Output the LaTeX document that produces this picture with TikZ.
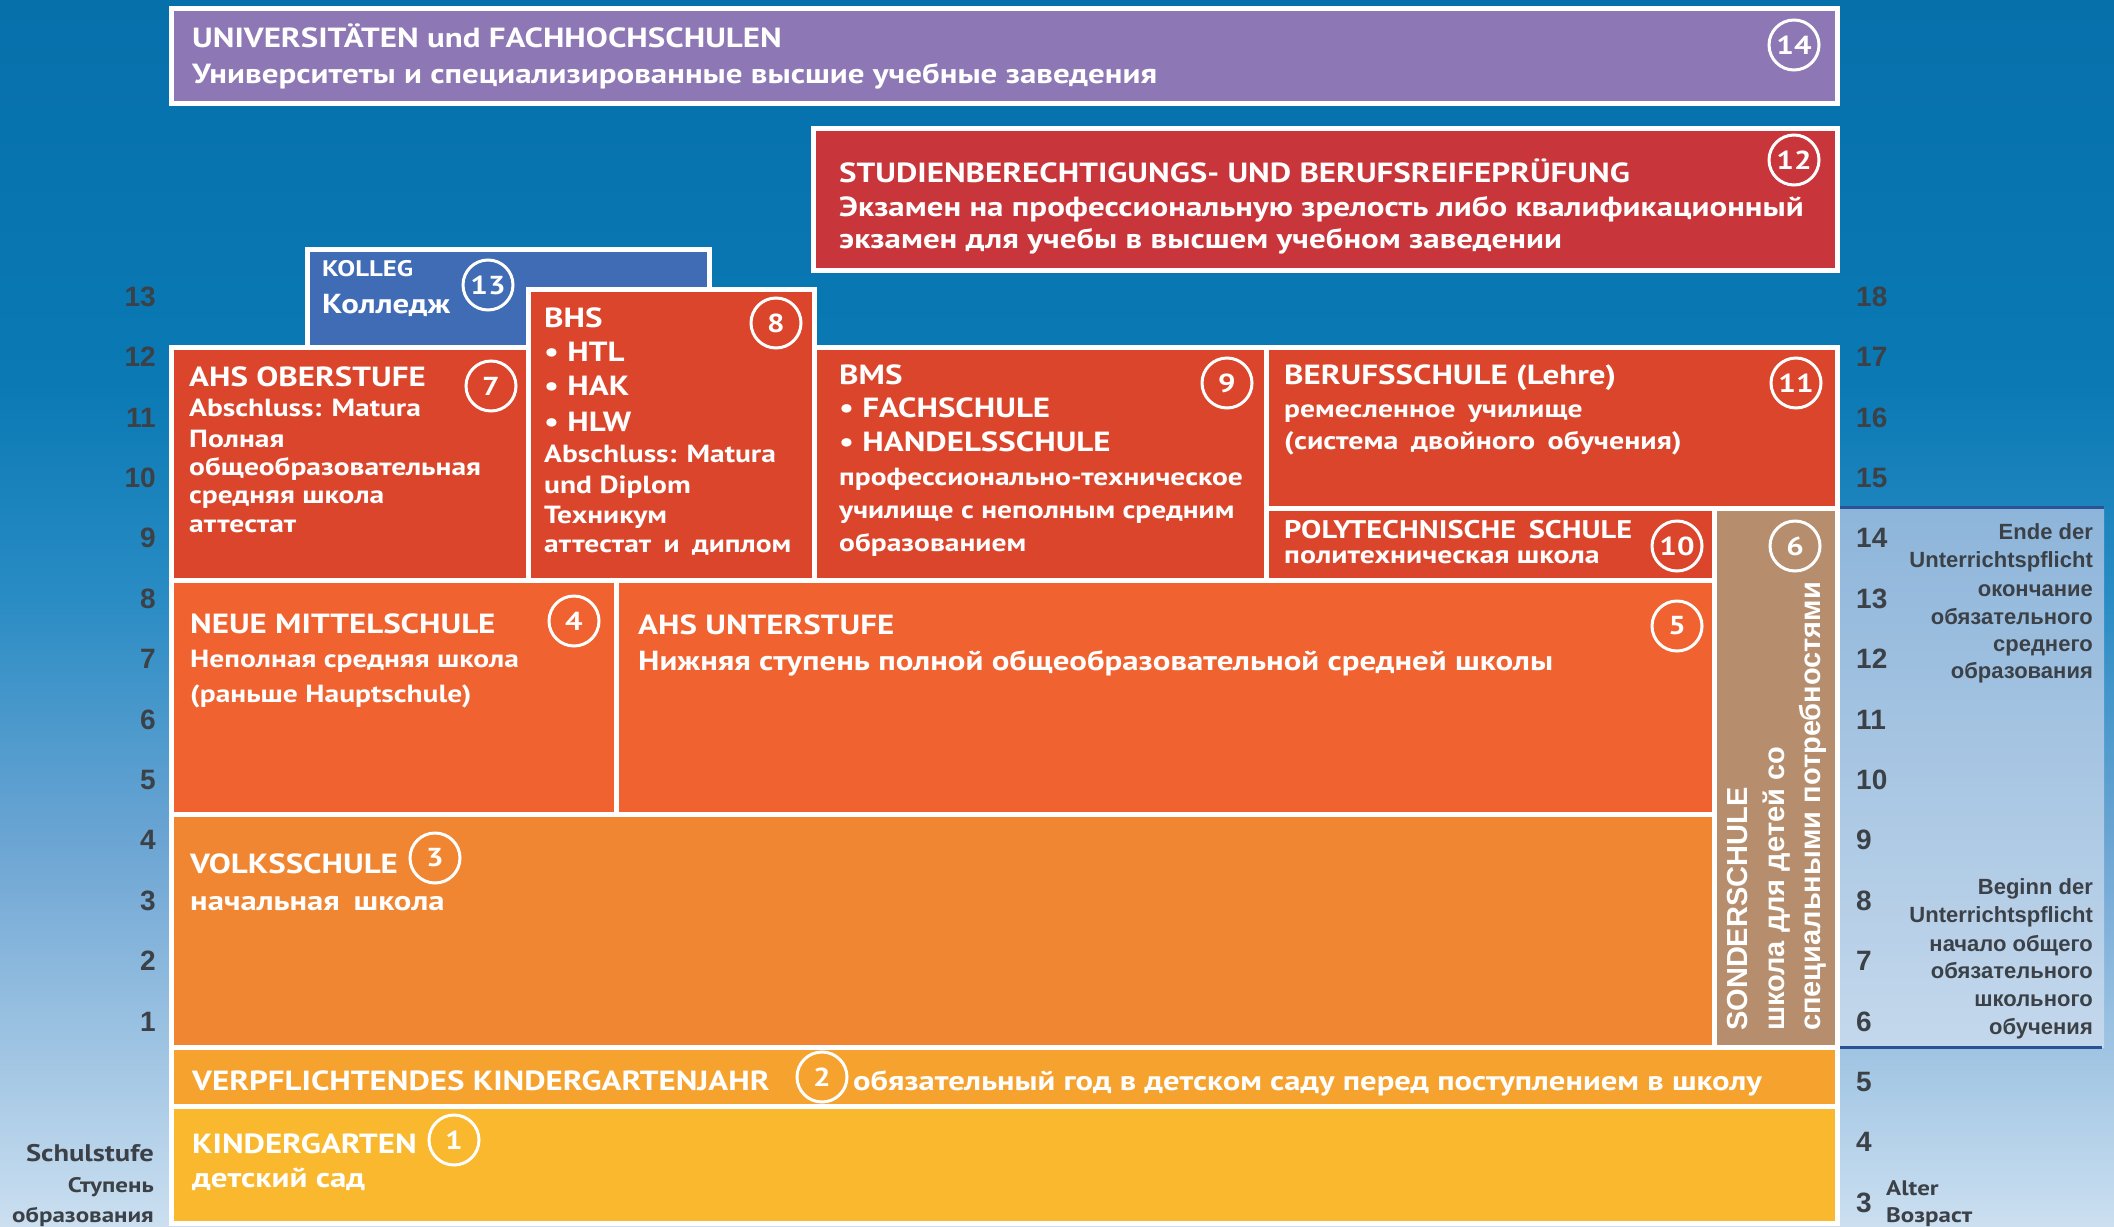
\documentclass[tikz,border=0pt]{standalone}
\usepackage{fontspec}
\setmainfont{PT Sans}[FakeStretch=1.19]
\newfontfamily\helv{Liberation Sans}
\newcommand\fsz[1]{\fontsize{#1}{#1}\selectfont}
\newcommand\wsp{\hspace{0.5em}}
\definecolor{bgA}{HTML}{0670AB}
\definecolor{bgB}{HTML}{0A79B4}
\definecolor{bgC}{HTML}{2A8CC4}
\definecolor{bgD}{HTML}{6EA6D4}
\definecolor{bgE}{HTML}{CBDFF0}
\definecolor{pnlTop}{HTML}{8DB5DA}
\definecolor{pnlBot}{HTML}{C4D8EC}
\definecolor{pnlLine}{HTML}{2A5294}
\definecolor{cPurple}{HTML}{8D77B4}
\definecolor{cDarkRed}{HTML}{C8353A}
\definecolor{cBlue}{HTML}{3F6CB5}
\definecolor{cRed}{HTML}{DB452B}
\definecolor{cOrRed}{HTML}{F0622F}
\definecolor{cOrange}{HTML}{F18632}
\definecolor{cLtOr}{HTML}{F6A22F}
\definecolor{cYellow}{HTML}{F9B82D}
\definecolor{cBrown}{HTML}{B68E6D}
\definecolor{cGrey}{HTML}{3B4147}
\tikzset{
  boxe/.style={draw=white, line width=5pt},
  circ/.style={circle, draw=white, line width=3pt, minimum size=50pt, inner sep=0pt, text=white, font=\bfseries\fsz{26}},
  lbl/.style={anchor=base west, text=white, inner sep=0pt, font=\bfseries\fsz{27.7}},
  sub/.style={lbl, font=\bfseries\fsz{24.8}},
  numL/.style={anchor=base east, inner sep=0pt, text=cGrey, font=\helv\bfseries\fsz{28}},
  numR/.style={anchor=base west, inner sep=0pt, text=cGrey, font=\helv\bfseries\fsz{28}},
  note/.style={anchor=base east, inner sep=0pt, text=cGrey, font=\helv\bfseries\fsz{22}},
  side/.style={inner sep=0pt, text=cGrey, font=\bfseries\fsz{24}},
  sond/.style={rotate=90, anchor=base west, inner sep=0pt, text=white, font=\helv\bfseries\fsz{29}}
}
\begin{document}
\begin{tikzpicture}[x=1pt,y=-1pt]
\useasboundingbox (0,0) rectangle (2114,1226);
% background
\fill[top color=bgA,bottom color=bgB] (0,0) rectangle (2114,381);
\fill[top color=bgB,bottom color=bgC] (0,380) rectangle (2114,601);
\fill[top color=bgC,bottom color=bgD] (0,600) rectangle (2114,851);
\fill[top color=bgD,bottom color=bgE] (0,850) rectangle (2114,1226);
% right panel
\fill[top color=pnlTop,bottom color=pnlBot] (1840,507) rectangle (2104,1047);
\draw[pnlLine, line width=3pt] (1840,507) -- (2104,507);
\draw[pnlLine, line width=3pt] (1840,1047) -- (2102,1047);
% boxes
\path[boxe, fill=cPurple] (171,8.5) rectangle (1837,103);
\path[boxe, fill=cDarkRed] (813,128.5) rectangle (1837,270.5);
\path[boxe, fill=cBlue] (307,249) rectangle (709,347);
\path[boxe, fill=cRed] (171,347) rectangle (528,580);
\path[boxe, fill=cRed] (528,289) rectangle (814,580);
\path[boxe, fill=cRed] (814,347) rectangle (1266,580);
\path[boxe, fill=cRed] (1266,347) rectangle (1837,508);
\path[boxe, fill=cRed] (1266,508) rectangle (1714,580);
\path[boxe, fill=cBrown] (1714,508) rectangle (1837,1047);
\path[boxe, fill=cOrRed] (171,580) rectangle (616,814);
\path[boxe, fill=cOrRed] (616,580) rectangle (1714,814);
\path[boxe, fill=cOrange] (171,814) rectangle (1714,1047);
\path[boxe, fill=cLtOr] (171,1047) rectangle (1837,1106);
\path[boxe, fill=cYellow] (171,1106) rectangle (1837,1223);
% texts
\node[lbl] (t14a) at (192,47) {UNIVERSITÄTEN und FACHHOCHSCHULEN};
\node[lbl] (t14b) at (192,83) {Университеты и специализированные высшие учебные заведения};
\node[lbl] (t12a) at (839,182) {STUDIENBERECHTIGUNGS- UND BERUFSREIFEPRÜFUNG};
\node[lbl] (t12b) at (839,216) {Экзамен на профессиональную зрелость либо квалификационный};
\node[lbl] (t12c) at (839,248) {экзамен для учебы в высшем учебном заведении};
\node[lbl, font=\bfseries\fsz{22.5}] (t13a) at (322,276) {KOLLEG};
\node[lbl, font=\bfseries\fsz{27.5}] (t13b) at (322,313) {Колледж};
\node[lbl] (t8a) at (544,327) {BHS};
\node[lbl] (t8b) at (544,361) {• HTL};
\node[lbl] (t8c) at (544,395) {• HAK};
\node[lbl] (t8d) at (544,431) {• HLW};
\node[sub] (t8e) at (544,462) {Abschluss: Matura};
\node[sub] (t8f) at (544,493) {und Diplom};
\node[sub] (t8g) at (544,523) {Техникум};
\node[sub] (t8h) at (544,552) {аттестат\wsp и\wsp диплом};
\node[lbl] (t7a) at (189,386) {AHS OBERSTUFE};
\node[sub] (t7b) at (189,416) {Abschluss: Matura};
\node[sub] (t7c) at (189,447) {Полная};
\node[sub] (t7d) at (189,475) {общеобразовательная};
\node[sub] (t7e) at (189,503) {средняя школа};
\node[sub] (t7f) at (189,532) {аттестат};
\node[lbl] (t9a) at (839,384) {BMS};
\node[lbl] (t9b) at (839,417) {• FACHSCHULE};
\node[lbl] (t9c) at (839,451) {• HANDELSSCHULE};
\node[sub] (t9d) at (839,485) {профессионально-техническое};
\node[sub] (t9e) at (839,518) {училище с неполным средним};
\node[sub] (t9f) at (839,551) {образованием};
\node[lbl] (t11a) at (1284,384) {BERUFSSCHULE (Lehre)};
\node[sub] (t11b) at (1284,417) {ремесленное\wsp училище};
\node[sub, font=\bfseries\fsz{25.2}] (t11c) at (1284,449) {(система\wsp двойного\wsp обучения)};
\node[sub, font=\bfseries\fsz{25.5}] (t10a) at (1284,538) {POLYTECHNISCHE\wsp SCHULE};
\node[sub, font=\bfseries\fsz{25}] (t10b) at (1284,563) {политехническая школа};
\node[lbl] (t4a) at (190,633) {NEUE MITTELSCHULE};
\node[sub] (t4b) at (190,667) {Неполная средняя школа};
\node[sub] (t4c) at (190,702) {(раньше Hauptschule)};
\node[lbl] (t5a) at (638,634) {AHS UNTERSTUFE};
\node[lbl, font=\bfseries\fsz{27.6}] (t5b) at (638,670) {Нижняя ступень полной общеобразовательной средней школы};
\node[lbl] (t3a) at (190,873) {VOLKSSCHULE};
\node[lbl, font=\bfseries\fsz{27.5}] (t3b) at (190,910) {начальная\wsp школа};
\node[lbl] (t2a) at (192,1090) {VERPFLICHTENDES KINDERGARTENJAHR};
\node[lbl, font=\bfseries\fsz{27.4}] (t2b) at (853,1090) {обязательный год в детском саду перед поступлением в школу};
\node[lbl] (t1a) at (192,1153) {KINDERGARTEN};
\node[lbl] (t1b) at (192,1187) {детский сад};
% Sonderschule
\node[sond] (t6a) at (1747,1031) {SONDERSCHULE};
\node[sond] (t6b) at (1784,1031) {школа для детей со};
\node[sond] (t6c) at (1820,1031) {специальными потребностями};
% circles
\node[circ] (c14) at (1794,45) {14};
\node[circ] (c12) at (1794,160) {12};
\node[circ] (c13) at (488,285) {13};
\node[circ] (c8) at (776,323) {8};
\node[circ] (c7) at (491,386) {7};
\node[circ] (c9) at (1227,383) {9};
\node[circ] (c11) at (1796,383) {11};
\node[circ] (c10) at (1677,546) {10};
\node[circ] (c6) at (1795,546) {6};
\node[circ] (c5) at (1677,626) {5};
\node[circ] (c4) at (574,621) {4};
\node[circ] (c3) at (435,858) {3};
\node[circ] (c2) at (822,1077) {2};
\node[circ] (c1) at (454,1140) {1};
% left scale
\foreach \k in {1,...,13} {
  \node[numL] (sl\k) at (156,{1031-(\k-1)*60.4}) {\k};
}
% right scale
\foreach \a in {3,...,18} {
  \node[numR] (sr\a) at (1856,{1031-(\a-6)*60.4}) {\a};
}
% right notes
\node[note] (n1) at (2093,539) {Ende der};
\node[note] (n2) at (2093,567) {Unterrichtspflicht};
\node[note] (n3) at (2093,596) {окончание};
\node[note] (n4) at (2093,624) {обязательного};
\node[note] (n5) at (2093,651) {среднего};
\node[note] (n6) at (2093,678) {образования};
\node[note] (m1) at (2093,894) {Beginn der};
\node[note] (m2) at (2093,922) {Unterrichtspflicht};
\node[note] (m3) at (2093,951) {начало общего};
\node[note] (m4) at (2093,978) {обязательного};
\node[note] (m5) at (2093,1006) {школьного};
\node[note] (m6) at (2093,1034) {обучения};
% side labels
\node[side, anchor=base east] (s1) at (154,1161) {Schulstufe};
\node[side, anchor=base east, font=\bfseries\fsz{21}] (s2) at (154,1192) {Ступень};
\node[side, anchor=base east, font=\bfseries\fsz{21}] (s3) at (154,1222) {образования};
\node[side, anchor=base west, font=\bfseries\fsz{21}] (a1) at (1886,1195) {Alter};
\node[side, anchor=base west, font=\bfseries\fsz{21}] (a2) at (1886,1222) {Возраст};
\end{tikzpicture}
\end{document}
